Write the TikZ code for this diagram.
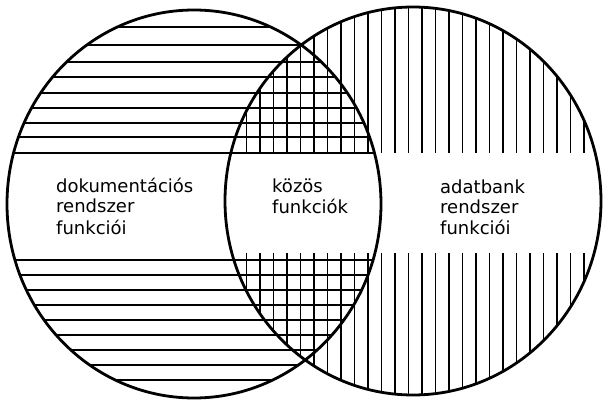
\documentclass[tikz,border=0pt]{standalone}
\usepackage{fontspec}
\setmainfont{DejaVu Sans}
\usetikzlibrary{positioning}

\begin{document}
\begin{tikzpicture}[
  x=1pt, y=-1pt,
  rim/.style={draw=black, line width=2.8pt},
  hatch/.style={draw=black, line width=1.2pt},
  lbl/.style={anchor=base west, inner sep=0pt, align=left, font=\fontsize{18}{21}\selectfont}
]
\useasboundingbox (0,0) rectangle (603,401);

% Horizontal hatching in the left circle
\begin{scope}
  \clip (194,204) ellipse [x radius=187, y radius=194];
  \foreach \y in {27,45,62,77,93,108,123,137,153,260,275,290,305,320,335,350,365,380}
    \draw[hatch] (0,\y) -- (400,\y);
\end{scope}

% Vertical hatching in the right circle
\begin{scope}
  \clip (413,201) ellipse [x radius=188, y radius=194];
  \foreach \k in {0,...,26} {
    \draw[hatch] (246.5+13.5*\k,0) -- (246.5+13.5*\k,153);
    \draw[hatch] (246.5+13.5*\k,253) -- (246.5+13.5*\k,401);
  }
\end{scope}

% The two circles
\draw[rim] (194,204) ellipse [x radius=187, y radius=194];
\draw[rim] (413,201) ellipse [x radius=188, y radius=194];

% Labels (base = last line)
\node[lbl] (docu) at (56,234) {dokumentációs\\rendszer\\funkciói};
\node[lbl] (kozos) at (272,214) {közös\\funkciók};
\node[lbl] (adat) at (440,235) {adatbank\\rendszer\\funkciói};

\end{tikzpicture}
\end{document}
